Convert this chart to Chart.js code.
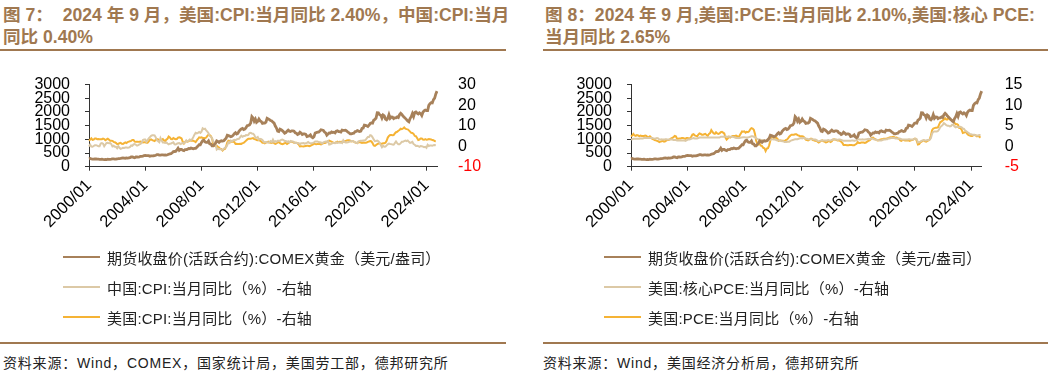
<!DOCTYPE html>
<html>
<head>
<meta charset="utf-8">
<script src="https://cdn.jsdelivr.net/npm/chart.js@4.4.1/dist/chart.umd.min.js"></script>
<style>
  body { margin: 0; width: 1060px; height: 380px; background: #fff; position: relative; overflow: hidden;
         font-family: "Liberation Sans", "Noto Sans CJK SC", sans-serif; }
  .title { position: absolute; top: 4px; font-size: 17.6px; font-weight: bold; line-height: 22px; color: #a07850; white-space: nowrap; }
  .rule { position: absolute; height: 2px; background: #a07850; }
  .box { position: absolute; top: 60px; width: 500px; height: 185px; }
  .legend { position: absolute; top: 242px; font-size: 15px; color: #222; letter-spacing: 0.2px; }
  .legend .row { height: 30px; display: flex; align-items: center; white-space: nowrap; }
  .legend .sw { width: 37px; height: 2px; margin-right: 7px; }
  .source { position: absolute; top: 352px; font-size: 14px; color: #222; white-space: nowrap; letter-spacing: 0.8px; }
</style>
</head>
<body>

<div class="title" style="left:3px">图 7：&nbsp; 2024 年 9 月，美国:CPI:当月同比 2.40%，中国:CPI:当月<br>同比 0.40%</div>
<div class="rule" style="left:0;top:49px;width:506px"></div>
<div class="box" style="left:0"><canvas id="chart1" width="500" height="185"></canvas></div>
<div class="legend" id="legend1" style="left:63px"></div>
<div class="rule" style="left:0;top:342px;width:506px"></div>
<div class="source" style="left:3px">资料来源：Wind，COMEX，国家统计局，美国劳工部，德邦研究所</div>

<div class="title" style="left:545px">图 8：2024 年 9 月,美国:PCE:当月同比 2.10%,美国:核心 PCE:<br>当月同比 2.65%</div>
<div class="rule" style="left:543px;top:49px;width:505px"></div>
<div class="box" style="left:540px"><canvas id="chart2" width="500" height="185"></canvas></div>
<div class="legend" id="legend2" style="left:604px"></div>
<div class="rule" style="left:543px;top:342px;width:505px"></div>
<div class="source" style="left:543px">资料来源：Wind，美国经济分析局，德邦研究所</div>

<script>
'use strict';

// months 2000/01 .. 2024/10
let monthLabels = [];
for (let y = 2000; y <= 2024; y++) {
  for (let m = 1; m <= 12; m++) {
    if (y === 2024 && m > 10) break;
    monthLabels.push(y + '/' + (m < 10 ? '0' + m : m));
  }
}

// COMEX gold, USD/oz
let goldPrice = [
  284, 300, 286, 280, 275, 286, 282, 275, 274, 270, 266, 272,
  266, 262, 263, 261, 272, 270, 268, 273, 284, 283, 276, 276,
  282, 296, 294, 303, 314, 322, 314, 310, 319, 317, 319, 333,
  357, 359, 340, 328, 355, 356, 351, 360, 379, 379, 389, 407,
  414, 405, 407, 404, 383, 392, 398, 400, 406, 420, 439, 442,
  424, 423, 434, 429, 422, 431, 424, 437, 456, 470, 476, 510,
  550, 555, 557, 611, 676, 596, 634, 632, 598, 586, 628, 629,
  631, 665, 655, 679, 667, 655, 666, 666, 712, 754, 806, 803,
  889, 950, 968, 909, 888, 890, 940, 839, 829, 760, 761, 816,
  858, 943, 925, 890, 928, 946, 934, 949, 996, 1043, 1150, 1134,
  1118, 1095, 1113, 1148, 1205, 1240, 1193, 1215, 1290, 1343, 1380, 1400,
  1356, 1372, 1424, 1500, 1512, 1529, 1600, 1830, 1780, 1665, 1739, 1620,
  1656, 1743, 1675, 1649, 1585, 1596, 1594, 1630, 1770, 1747, 1722, 1685,
  1671, 1628, 1593, 1487, 1414, 1300, 1287, 1370, 1349, 1316, 1275, 1225,
  1244, 1300, 1336, 1299, 1288, 1310, 1311, 1296, 1239, 1222, 1176, 1201,
  1260, 1227, 1179, 1198, 1199, 1181, 1100, 1117, 1125, 1160, 1086, 1060,
  1097, 1230, 1246, 1260, 1260, 1300, 1350, 1341, 1326, 1267, 1236, 1152,
  1192, 1234, 1231, 1267, 1246, 1260, 1237, 1300, 1314, 1280, 1283, 1265,
  1340, 1331, 1325, 1335, 1303, 1260, 1238, 1202, 1199, 1215, 1221, 1280,
  1291, 1320, 1301, 1286, 1300, 1400, 1413, 1520, 1510, 1495, 1471, 1515,
  1580, 1598, 1592, 1700, 1730, 1780, 1970, 1969, 1900, 1880, 1780, 1890,
  1860, 1740, 1710, 1770, 1900, 1770, 1817, 1815, 1755, 1783, 1785, 1820,
  1796, 1900, 1950, 1910, 1850, 1810, 1765, 1720, 1670, 1640, 1760, 1826,
  1940, 1836, 1980, 1999, 1960, 1929, 1970, 1940, 1870, 1990, 2040, 2070,
  2050, 2050, 2240, 2300, 2340, 2330, 2450, 2510, 2660, 2760
];

// China CPI YoY, %
let chinaCpi = [
  -0.2, 0.7, -0.2, -0.3, 0.1, 0.5, 0.5, 0.3, 0.0, 0.0, 1.3, 1.5,
  1.2, 0.0, 0.8, 1.6, 1.7, 1.4, 1.5, 1.0, -0.1, 0.2, -0.3, -0.3,
  -1.0, 0.0, -0.8, -1.3, -1.1, -0.8, -0.9, -0.7, -0.7, -0.8, -0.7, -0.4,
  0.4, 0.2, 0.9, 1.0, 0.7, 0.3, 0.5, 0.9, 1.1, 1.8, 3.0, 3.2,
  3.2, 2.1, 3.0, 3.8, 4.4, 5.0, 5.3, 5.3, 5.2, 4.3, 2.8, 2.4,
  1.9, 3.9, 2.7, 1.8, 1.8, 1.6, 1.8, 1.3, 0.9, 1.2, 1.3, 1.6,
  1.9, 0.9, 0.8, 1.2, 1.4, 1.5, 1.0, 1.3, 1.5, 1.4, 1.9, 2.8,
  2.2, 2.7, 3.3, 3.0, 3.4, 4.4, 5.6, 6.5, 6.2, 6.5, 6.9, 6.5,
  7.1, 8.7, 8.3, 8.5, 7.7, 7.1, 6.3, 4.9, 4.6, 4.0, 2.4, 1.2,
  1.0, -1.6, -1.2, -1.5, -1.4, -1.7, -1.8, -1.2, -0.8, -0.5, 0.6, 1.9,
  1.5, 2.7, 2.4, 2.8, 3.1, 2.9, 3.3, 3.5, 3.6, 4.4, 5.1, 4.6,
  4.9, 4.9, 5.4, 5.3, 5.5, 6.4, 6.5, 6.2, 6.1, 5.5, 4.2, 4.1,
  4.5, 3.2, 3.6, 3.4, 3.0, 2.2, 1.8, 2.0, 1.9, 1.7, 2.0, 2.5,
  2.0, 3.2, 2.1, 2.4, 2.1, 2.7, 2.7, 2.6, 3.1, 3.2, 3.0, 2.5,
  2.5, 2.0, 2.4, 1.8, 2.5, 2.3, 2.3, 2.0, 1.6, 1.6, 1.4, 1.5,
  0.8, 1.4, 1.4, 1.5, 1.2, 1.4, 1.6, 2.0, 1.6, 1.3, 1.5, 1.6,
  1.8, 2.3, 2.3, 2.3, 2.0, 1.9, 1.8, 1.3, 1.9, 2.1, 2.3, 2.1,
  2.5, 0.8, 0.9, 1.2, 1.5, 1.5, 1.4, 1.8, 1.6, 1.9, 1.7, 1.8,
  1.5, 2.9, 2.1, 1.8, 1.8, 1.9, 2.1, 2.3, 2.5, 2.5, 2.2, 1.9,
  1.7, 1.5, 2.3, 2.5, 2.7, 2.7, 2.8, 2.8, 3.0, 3.8, 4.5, 4.5,
  5.4, 5.2, 4.3, 3.3, 2.4, 2.5, 2.7, 2.4, 1.7, 0.5, -0.5, 0.2,
  -0.3, -0.2, 0.4, 0.9, 1.3, 1.1, 1.0, 0.8, 0.7, 1.5, 2.3, 1.5,
  0.9, 0.9, 1.5, 2.1, 2.1, 2.5, 2.7, 2.5, 2.8, 2.1, 1.6, 1.8,
  2.1, 1.0, 0.7, 0.1, 0.2, 0.0, -0.3, 0.1, 0.0, -0.2, -0.5, -0.3,
  -0.8, 0.7, 0.1, 0.3, 0.3, 0.2, 0.5, 0.6, 0.4, null
];

// US CPI YoY, %
let usCpi = [
  2.7, 3.2, 3.8, 3.1, 3.2, 3.7, 3.7, 3.4, 3.5, 3.4, 3.4, 3.4,
  3.7, 3.5, 2.9, 3.3, 3.6, 3.2, 2.7, 2.7, 2.6, 2.1, 1.9, 1.6,
  1.1, 1.1, 1.5, 1.6, 1.2, 1.1, 1.5, 1.8, 1.5, 2.0, 2.2, 2.4,
  2.6, 3.0, 3.0, 2.2, 2.1, 2.1, 2.1, 2.2, 2.3, 2.0, 1.8, 1.9,
  1.9, 1.7, 1.7, 2.3, 3.1, 3.3, 3.0, 2.7, 2.5, 3.2, 3.5, 3.3,
  3.0, 3.0, 3.1, 3.5, 2.8, 2.5, 3.2, 3.6, 4.7, 4.3, 3.5, 3.4,
  4.0, 3.6, 3.4, 3.5, 4.2, 4.3, 4.1, 3.8, 2.1, 1.3, 2.0, 2.5,
  2.1, 2.4, 2.8, 2.6, 2.7, 2.7, 2.4, 2.0, 2.8, 3.5, 4.3, 4.1,
  4.3, 4.0, 4.0, 3.9, 4.2, 5.0, 5.6, 5.4, 4.9, 3.7, 1.1, 0.1,
  0.0, 0.2, -0.4, -0.7, -1.3, -1.4, -2.1, -1.5, -1.3, -0.2, 1.8, 2.7,
  2.6, 2.1, 2.3, 2.2, 2.0, 1.1, 1.2, 1.1, 1.1, 1.2, 1.1, 1.5,
  1.6, 2.1, 2.7, 3.2, 3.6, 3.6, 3.6, 3.8, 3.9, 3.5, 3.4, 3.0,
  2.9, 2.9, 2.7, 2.3, 1.7, 1.7, 1.4, 1.7, 2.0, 2.2, 1.8, 1.7,
  1.6, 2.0, 1.5, 1.1, 1.4, 1.8, 2.0, 1.5, 1.2, 1.0, 1.2, 1.5,
  1.6, 1.1, 1.5, 2.0, 2.1, 2.1, 2.0, 1.7, 1.7, 1.7, 1.3, 0.8,
  -0.1, 0.0, -0.1, -0.2, 0.0, 0.1, 0.2, 0.2, 0.0, 0.2, 0.5, 0.7,
  1.4, 1.0, 0.9, 1.1, 1.0, 1.0, 0.8, 1.1, 1.5, 1.6, 1.7, 2.1,
  2.5, 2.7, 2.4, 2.2, 1.9, 1.6, 1.7, 1.9, 2.2, 2.0, 2.2, 2.1,
  2.1, 2.2, 2.4, 2.5, 2.8, 2.9, 2.9, 2.7, 2.3, 2.5, 2.2, 1.9,
  1.6, 1.5, 1.9, 2.0, 1.8, 1.6, 1.8, 1.7, 1.7, 1.8, 2.1, 2.3,
  2.5, 2.3, 1.5, 0.3, 0.1, 0.6, 1.0, 1.3, 1.4, 1.2, 1.2, 1.4,
  1.4, 1.7, 2.6, 4.2, 5.0, 5.4, 5.4, 5.3, 5.4, 6.2, 6.8, 7.0,
  7.5, 7.9, 8.5, 8.3, 8.6, 9.1, 8.5, 8.3, 8.2, 7.7, 7.1, 6.5,
  6.4, 6.0, 5.0, 4.9, 4.0, 3.0, 3.2, 3.7, 3.7, 3.2, 3.1, 3.4,
  3.1, 3.2, 3.5, 3.4, 3.3, 3.0, 2.9, 2.5, 2.4, null
];

// US core PCE YoY, %
let usCorePce = [
  1.6, 1.7, 1.8, 1.8, 1.8, 1.8, 1.8, 1.8, 1.9, 1.9, 1.9, 2.0,
  2.0, 2.0, 2.0, 2.0, 2.0, 2.0, 2.0, 1.9, 1.8, 1.9, 2.0, 1.9,
  1.6, 1.6, 1.7, 1.6, 1.6, 1.7, 1.7, 1.6, 1.6, 1.6, 1.7, 1.6,
  1.5, 1.5, 1.5, 1.4, 1.4, 1.4, 1.4, 1.4, 1.4, 1.4, 1.3, 1.4,
  1.6, 1.6, 1.7, 1.8, 1.9, 2.0, 1.9, 1.9, 1.9, 2.0, 2.1, 2.1,
  2.1, 2.1, 2.1, 2.1, 2.1, 2.1, 2.1, 2.1, 2.1, 2.1, 2.1, 2.1,
  2.1, 2.1, 2.1, 2.1, 2.3, 2.3, 2.3, 2.3, 2.4, 2.3, 2.3, 2.3,
  2.3, 2.3, 2.3, 2.2, 2.1, 2.0, 2.0, 2.0, 2.0, 2.1, 2.1, 2.2,
  2.2, 2.1, 2.1, 2.1, 2.2, 2.3, 2.4, 2.4, 2.3, 2.2, 1.9, 1.8,
  1.6, 1.6, 1.5, 1.5, 1.4, 1.4, 1.2, 1.3, 1.3, 1.4, 1.6, 1.7,
  1.7, 1.6, 1.6, 1.5, 1.4, 1.4, 1.4, 1.3, 1.2, 1.2, 1.0, 1.0,
  1.0, 1.1, 1.1, 1.3, 1.4, 1.5, 1.6, 1.7, 1.7, 1.7, 1.8, 1.9,
  2.0, 1.9, 2.0, 2.0, 1.8, 1.8, 1.7, 1.7, 1.7, 1.7, 1.7, 1.6,
  1.6, 1.5, 1.3, 1.2, 1.3, 1.4, 1.4, 1.4, 1.4, 1.4, 1.4, 1.5,
  1.4, 1.4, 1.5, 1.6, 1.6, 1.6, 1.6, 1.5, 1.6, 1.6, 1.5, 1.4,
  1.3, 1.3, 1.3, 1.3, 1.3, 1.3, 1.3, 1.4, 1.4, 1.3, 1.4, 1.4,
  1.7, 1.7, 1.6, 1.6, 1.7, 1.6, 1.6, 1.7, 1.7, 1.8, 1.7, 1.8,
  1.8, 1.8, 1.6, 1.6, 1.5, 1.5, 1.4, 1.4, 1.4, 1.5, 1.6, 1.6,
  1.7, 1.7, 1.9, 1.9, 2.0, 2.0, 2.0, 2.0, 1.9, 1.9, 1.9, 1.9,
  1.8, 1.7, 1.6, 1.6, 1.6, 1.6, 1.6, 1.7, 1.7, 1.6, 1.6, 1.6,
  1.8, 1.8, 1.7, 0.9, 1.0, 1.1, 1.3, 1.4, 1.5, 1.4, 1.4, 1.5,
  1.5, 1.6, 2.0, 3.1, 3.5, 3.6, 3.6, 3.6, 3.7, 4.1, 4.7, 4.9,
  5.2, 5.6, 5.4, 5.1, 5.0, 5.0, 4.8, 4.9, 5.2, 5.2, 4.8, 4.6,
  4.7, 4.7, 4.6, 4.7, 4.6, 4.3, 4.2, 3.8, 3.6, 3.4, 3.2, 2.9,
  2.9, 2.8, 2.8, 2.8, 2.6, 2.6, 2.6, 2.7, 2.7, null
];

// US PCE YoY, %
let usPce = [
  2.4, 2.6, 3.0, 2.6, 2.5, 2.7, 2.6, 2.4, 2.6, 2.5, 2.5, 2.5,
  2.6, 2.5, 2.2, 2.2, 2.4, 2.1, 1.8, 1.7, 1.5, 1.4, 1.3, 1.2,
  1.0, 1.1, 1.2, 1.3, 1.1, 1.2, 1.4, 1.5, 1.5, 1.7, 1.9, 2.0,
  2.2, 2.5, 2.4, 1.8, 1.8, 1.9, 1.9, 2.0, 2.0, 1.9, 1.8, 2.0,
  2.0, 1.9, 1.9, 2.3, 2.8, 2.9, 2.6, 2.5, 2.4, 2.8, 3.1, 3.0,
  2.8, 2.8, 2.9, 3.0, 2.7, 2.5, 3.0, 3.2, 3.9, 3.5, 3.1, 3.0,
  3.4, 3.1, 3.0, 3.1, 3.4, 3.5, 3.3, 3.1, 2.1, 1.6, 1.9, 2.3,
  2.1, 2.3, 2.5, 2.5, 2.5, 2.6, 2.4, 2.1, 2.6, 3.1, 3.6, 3.5,
  3.6, 3.3, 3.5, 3.4, 3.6, 4.1, 4.4, 4.3, 4.0, 3.0, 1.3, 0.6,
  0.4, 0.6, 0.1, 0.0, -0.4, -0.5, -1.2, -0.6, -0.5, 0.2, 1.4, 2.2,
  2.4, 2.0, 2.1, 2.0, 1.8, 1.3, 1.4, 1.4, 1.3, 1.3, 1.2, 1.5,
  1.6, 1.9, 2.3, 2.6, 2.8, 2.8, 2.8, 2.9, 2.9, 2.7, 2.6, 2.4,
  2.4, 2.4, 2.3, 2.0, 1.6, 1.5, 1.4, 1.6, 1.8, 1.8, 1.5, 1.4,
  1.3, 1.4, 1.1, 0.9, 1.1, 1.3, 1.4, 1.2, 1.1, 0.9, 1.0, 1.2,
  1.2, 1.0, 1.2, 1.6, 1.7, 1.6, 1.5, 1.4, 1.4, 1.3, 1.1, 0.8,
  0.3, 0.3, 0.3, 0.2, 0.2, 0.3, 0.3, 0.3, 0.2, 0.2, 0.4, 0.6,
  1.0, 0.8, 0.8, 0.9, 0.9, 0.9, 0.8, 0.9, 1.1, 1.3, 1.4, 1.7,
  2.0, 2.1, 1.8, 1.7, 1.5, 1.4, 1.5, 1.6, 1.7, 1.7, 1.8, 1.8,
  1.8, 1.9, 2.0, 2.1, 2.2, 2.2, 2.3, 2.2, 2.0, 2.1, 1.9, 1.8,
  1.4, 1.3, 1.5, 1.5, 1.4, 1.4, 1.4, 1.4, 1.3, 1.4, 1.5, 1.6,
  1.8, 1.8, 1.3, 0.4, 0.5, 0.9, 1.1, 1.3, 1.4, 1.2, 1.1, 1.3,
  1.4, 1.7, 2.6, 3.9, 4.3, 4.4, 4.5, 4.5, 4.6, 5.3, 5.9, 6.0,
  6.3, 6.5, 6.8, 6.5, 6.5, 7.0, 6.5, 6.4, 6.4, 6.2, 5.7, 5.3,
  5.4, 5.2, 4.4, 4.4, 4.0, 3.2, 3.3, 3.4, 3.4, 2.9, 2.7, 2.6,
  2.5, 2.5, 2.7, 2.7, 2.6, 2.4, 2.5, 2.3, 2.1, null
];

let goldLabel = '期货收盘价(活跃合约):COMEX黄金（美元/盎司）';
let goldColor = '#a7815a';
let lightColor = '#dcc9a6';
let yellowColor = '#f5b335';

let leftTicks = [0, 500, 1000, 1500, 2000, 2500, 3000];
let rightTicks1 = [-10, 0, 10, 20, 30];
let rightTicks2 = [-5, 0, 5, 10, 15];

Chart.defaults.font.family = '"Liberation Sans", "Noto Sans CJK SC", sans-serif';
Chart.defaults.color = '#000';

function plainNumber(v) {
  return String(v);
}

function makeChart(canvasId, series, rightTicks, geo) {
  let datasets = [{
    label: goldLabel,
    data: goldPrice,
    borderColor: goldColor,
    borderWidth: 2.8,
    yAxisID: 'y'
  }];
  for (let i = 0; i < series.length; i++) {
    datasets.push({
      label: series[i].label,
      data: series[i].data,
      borderColor: series[i].color,
      borderWidth: 2,
      yAxisID: 'y1'
    });
  }
  datasets.forEach(function (d) {
    d.pointRadius = 0;
    d.tension = 0;
    d.fill = false;
  });

  let chartObj = {
    type: 'line',
    data: { labels: monthLabels, datasets: datasets },
    options: {
      responsive: false,
      animation: false,
      layout: { padding: { top: geo.top, left: 0, right: 0, bottom: 0 } },
      plugins: { legend: { display: false }, tooltip: { enabled: false } },
      scales: {
        x: {
          type: 'category',
          offset: false,
          border: { display: true, color: '#333', width: 1 },
          grid: { drawOnChartArea: false, drawTicks: true, tickLength: 4, color: '#333' },
          ticks: { autoSkip: false, minRotation: 45, maxRotation: 45, padding: 5, font: { size: 16.5 }, color: '#000' },
          afterBuildTicks: function (scale) {
            scale.ticks = scale.ticks.filter(function (t) { return t.value % 48 === 0; });
          },
          afterFit: function (scale) { scale.height = geo.xHeight; }
        },
        y: {
          position: 'left',
          min: 0, max: 3000,
          border: { display: true, color: '#333', width: 1 },
          grid: { drawOnChartArea: false, drawTicks: true, tickLength: 4, color: '#333' },
          ticks: { autoSkip: false, padding: 15, font: { size: 16 }, color: '#000', callback: plainNumber },
          afterBuildTicks: function (scale) {
            scale.ticks = leftTicks.map(function (v) { return { value: v }; });
          },
          afterFit: function (scale) { scale.width = geo.leftW; }
        },
        y1: {
          position: 'right',
          min: rightTicks[0], max: rightTicks[rightTicks.length - 1],
          border: { display: false },
          grid: { display: false },
          ticks: {
            autoSkip: false,
            padding: geo.rightPad,
            font: { size: 16 },
            callback: plainNumber,
            color: function (ctx) { return ctx.tick && ctx.tick.value < 0 ? '#ff0000' : '#000'; }
          },
          afterBuildTicks: function (scale) {
            scale.ticks = rightTicks.map(function (v) { return { value: v }; });
          },
          afterFit: function (scale) { scale.width = geo.rightW; }
        }
      }
    }
  };
  return new Chart(document.getElementById(canvasId), chartObj);
}

function renderLegend(chart, elemId) {
  let box = document.getElementById(elemId);
  chart.data.datasets.forEach(function (d) {
    let row = document.createElement('div');
    row.className = 'row';
    let sw = document.createElement('span');
    sw.className = 'sw';
    sw.style.background = d.borderColor;
    let tx = document.createElement('span');
    tx.textContent = d.label;
    row.appendChild(sw);
    row.appendChild(tx);
    box.appendChild(row);
  });
}

let chart1 = makeChart('chart1', [
  { label: '中国:CPI:当月同比（%）-右轴', data: chinaCpi, color: lightColor },
  { label: '美国:CPI:当月同比（%）-右轴', data: usCpi, color: yellowColor }
], rightTicks1, { top: 14, xHeight: 78.3, leftW: 89, rightW: 63, rightPad: 13 });

let chart2 = makeChart('chart2', [
  { label: '美国:核心PCE:当月同比（%）-右轴', data: usCorePce, color: lightColor },
  { label: '美国:PCE:当月同比（%）-右轴', data: usPce, color: yellowColor }
], rightTicks2, { top: 13.3, xHeight: 78.3, leftW: 91, rightW: 58.3, rightPad: 15 });

renderLegend(chart1, 'legend1');
renderLegend(chart2, 'legend2');
</script>
</body>
</html>
